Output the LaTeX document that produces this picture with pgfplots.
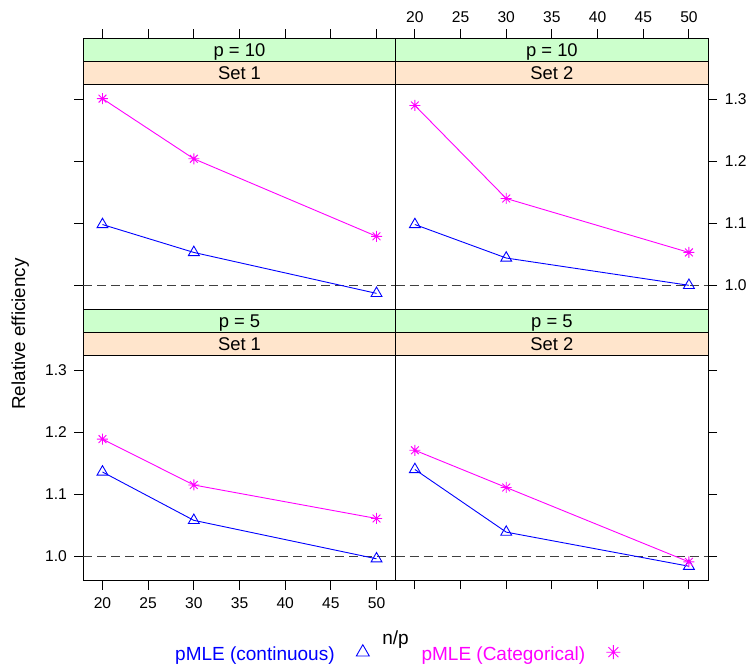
\documentclass[border=0pt]{standalone}
\usepackage{fontspec}
\setmainfont{Liberation Sans}
\usepackage{pgfplots}
\pgfplotsset{compat=1.18}
\definecolor{stripgreen}{HTML}{CCFFCC}
\definecolor{striporange}{HTML}{FFE5CC}
\definecolor{rblue}{HTML}{0000FF}
\definecolor{rmagenta}{HTML}{FF00FF}
\pgfdeclareplotmark{rstar}{%
  \pgfpathmoveto{\pgfqpoint{-\pgfplotmarksize}{0pt}}%
  \pgfpathlineto{\pgfqpoint{\pgfplotmarksize}{0pt}}%
  \pgfpathmoveto{\pgfqpoint{0pt}{-\pgfplotmarksize}}%
  \pgfpathlineto{\pgfqpoint{0pt}{\pgfplotmarksize}}%
  \pgfpathmoveto{\pgfqpoint{-0.7071\pgfplotmarksize}{-0.7071\pgfplotmarksize}}%
  \pgfpathlineto{\pgfqpoint{0.7071\pgfplotmarksize}{0.7071\pgfplotmarksize}}%
  \pgfpathmoveto{\pgfqpoint{-0.7071\pgfplotmarksize}{0.7071\pgfplotmarksize}}%
  \pgfpathlineto{\pgfqpoint{0.7071\pgfplotmarksize}{-0.7071\pgfplotmarksize}}%
  \pgfusepathqstroke}
\tikzset{
  refline/.style={black!75, line width=0.9bp, dash pattern=on 9bp off 5bp},
  cont/.style={rblue, line width=0.9bp, mark=triangle, mark size=6.3bp},
  cat/.style={rmagenta, line width=0.9bp, mark=rstar, mark size=5.5bp},
  strip/.style={line width=0.9bp, draw=black},
  striptext/.style={anchor=base, font=\fontsize{18.4bp}{22bp}\selectfont},
}
\pgfplotsset{
  panel/.style={
    scale only axis, width=312.4bp, height=271bp, anchor=south west,
    xmin=17.9, xmax=52.1, ymin=0.961, ymax=1.398,
    xtick={20,25,30,35,40,45,50}, ytick={1.0,1.1,1.2,1.3},
    tick align=outside, major tick length=9bp,
    axis line style={line width=0.9bp},
    major tick style={black, line width=0.9bp},
    clip=false,
    tick label style={font=\fontsize{15.6bp}{18bp}\selectfont},
    /pgf/number format/assume math mode=true,
    yticklabel style={/pgf/number format/fixed, /pgf/number format/fixed zerofill, /pgf/number format/precision=1},
  },
}
\begin{document}
\begin{tikzpicture}
\useasboundingbox (0bp,0bp) rectangle (753bp,665bp);
% top-left: p = 10, Set 1
\begin{axis}[panel, at={(83.3bp,355.5bp)}, xtick pos=right, xticklabels={}, ytick pos=left, yticklabels={}]
\addplot[refline] coordinates {(17.9,1) (52.1,1)};
\addplot[cont] coordinates {(20,1.098) (30,1.053) (50,0.987)};
\addplot[cat] coordinates {(20,1.301) (30,1.204) (50,1.079)};
\filldraw[strip, fill=striporange] (axis cs:17.9,1.3242) rectangle (axis cs:52.1,1.3613);
\filldraw[strip, fill=stripgreen] (axis cs:17.9,1.3613) rectangle (axis cs:52.1,1.398);
\node[striptext] at (axis cs:35,1.369) {p = 10};
\node[striptext] at (axis cs:35,1.3325) {Set 1};
\end{axis}
% top-right: p = 10, Set 2
\begin{axis}[panel, at={(395.7bp,355.5bp)}, xtick pos=right, xticklabel pos=right, ytick pos=right, yticklabel pos=right,
  xticklabel style={/tikz/yshift=3.7bp}, yticklabel style={/tikz/xshift=4.2bp}]
\addplot[refline] coordinates {(17.9,1) (52.1,1)};
\addplot[cont] coordinates {(20,1.098) (30,1.044) (50,1.000)};
\addplot[cat] coordinates {(20,1.290) (30,1.140) (50,1.053)};
\filldraw[strip, fill=striporange] (axis cs:17.9,1.3242) rectangle (axis cs:52.1,1.3613);
\filldraw[strip, fill=stripgreen] (axis cs:17.9,1.3613) rectangle (axis cs:52.1,1.398);
\node[striptext] at (axis cs:35,1.369) {p = 10};
\node[striptext] at (axis cs:35,1.3325) {Set 2};
\end{axis}
% bottom-left: p = 5, Set 1
\begin{axis}[panel, at={(83.3bp,84.5bp)}, xtick pos=left, ytick pos=left,
  xticklabel style={/tikz/yshift=-5bp}, yticklabel style={/tikz/xshift=-4bp},
  legend style={draw=none, fill=none, inner sep=0pt, at={(0.2935,-0.2695)}, anchor=west,
    legend columns=2, legend plot pos=right, font=\fontsize{19bp}{22bp}\selectfont,
    nodes={inner sep=0pt},
    /tikz/every odd column/.append style={column sep=20.7bp},
    /tikz/every even column/.append style={column sep=51.3bp}},
  legend image code/.code={\path (0bp,0bp) (14bp,0bp); \draw[#1] plot coordinates {(7bp,2.5bp)};}]
\addlegendimage{only marks, rblue, line width=0.9bp, mark=triangle, mark size=7.5bp}
\addlegendentry[text=rblue]{pMLE (continuous)}
\addlegendimage{only marks, rmagenta, line width=0.9bp, mark=rstar, mark size=7bp}
\addlegendentry[text=rmagenta]{pMLE (Categorical)}
\addplot[refline] coordinates {(17.9,1) (52.1,1)};
\addplot[cont] coordinates {(20,1.136) (30,1.058) (50,0.996)};
\addplot[cat] coordinates {(20,1.189) (30,1.115) (50,1.061)};
\filldraw[strip, fill=striporange] (axis cs:17.9,1.3242) rectangle (axis cs:52.1,1.3613);
\filldraw[strip, fill=stripgreen] (axis cs:17.9,1.3613) rectangle (axis cs:52.1,1.398);
\node[striptext] at (axis cs:35,1.369) {p = 5};
\node[striptext] at (axis cs:35,1.3325) {Set 1};
\end{axis}
% bottom-right: p = 5, Set 2
\begin{axis}[panel, at={(395.7bp,84.5bp)}, xtick pos=left, xticklabels={}, ytick pos=right, yticklabels={}]
\addplot[refline] coordinates {(17.9,1) (52.1,1)};
\addplot[cont] coordinates {(20,1.140) (30,1.039) (50,0.984)};
\addplot[cat] coordinates {(20,1.171) (30,1.111) (50,0.991)};
\filldraw[strip, fill=striporange] (axis cs:17.9,1.3242) rectangle (axis cs:52.1,1.3613);
\filldraw[strip, fill=stripgreen] (axis cs:17.9,1.3613) rectangle (axis cs:52.1,1.398);
\node[striptext] at (axis cs:35,1.369) {p = 5};
\node[striptext] at (axis cs:35,1.3325) {Set 2};
\end{axis}
\node[rotate=90, anchor=base, font=\fontsize{18.8bp}{22bp}\selectfont] at (25bp,331bp) {Relative efficiency};
\node[anchor=base, font=\fontsize{19bp}{22bp}\selectfont] at (395.5bp,21bp) {n/p};
\end{tikzpicture}
\end{document}
